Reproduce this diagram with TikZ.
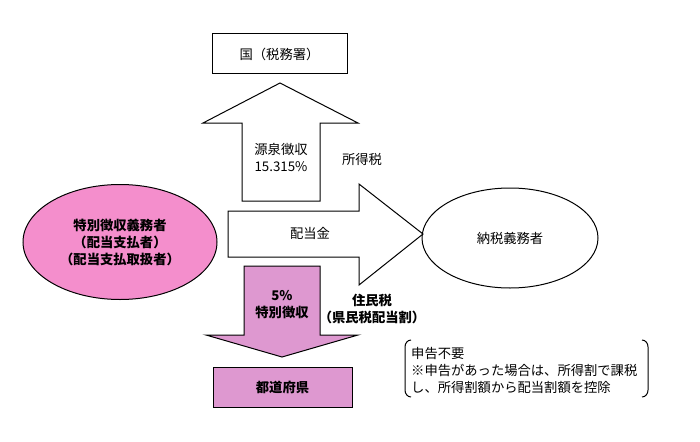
\documentclass[tikz,border=0pt]{standalone}
\usepackage{fontspec}
\setmainfont{Noto Sans CJK JP}
\usetikzlibrary{shapes.geometric}

\definecolor{ellpink}{RGB}{244,142,204}
\definecolor{arrpink}{RGB}{222,152,208}

\tikzset{
  lbl/.style={inner sep=0pt, align=center, font=\fontsize{13.3}{17}\selectfont},
  blbl/.style={lbl, font=\fontsize{13.3}{17}\selectfont\bfseries},
  outline/.style={draw=black, line width=1pt},
}

\begin{document}
\begin{tikzpicture}[x=1pt, y=-1pt]
  \useasboundingbox[fill=white] (0,0) rectangle (700,441);

  % Tax office box and withholding arrow
  \node[outline, minimum width=135, minimum height=40, lbl] (kuni) at (279.5,54) {国（税務署）};
  \draw[outline, fill=white] (242,201) -- (242,123) -- (203,123) -- (280,83)
    -- (358,123) -- (320,123) -- (320,201) -- cycle;
  \node[lbl] (gensen) at (281,157) {源泉徴収\\15.315\%};
  \node[lbl] (shotoku) at (362,159) {所得税};

  % Dividend payer
  \node[ellipse, outline, fill=ellpink, minimum width=194, minimum height=115, inner sep=0pt] (payer) at (120,242) {};
  \node[blbl] at (payer.center) {特別徴収義務者\\（配当支払者）\\（配当支払取扱者）};

  % Dividend arrow to taxpayer
  \draw[outline, fill=white] (228,211) -- (359,211) -- (359,184) -- (423,234)
    -- (359,285) -- (359,257) -- (228,257) -- cycle;
  \node[lbl] (haito) at (310,233) {配当金};
  \node[ellipse, draw=black, line width=1pt, minimum width=176, minimum height=100, lbl] (nozei) at (510,238) {納税義務者};

  % Special collection arrow
  \draw[outline, fill=arrpink] (244,266) -- (320,266) -- (320,335) -- (358,335)
    -- (282,357) -- (206,335) -- (244,335) -- cycle;
  \node[blbl] (tokubetsu) at (282,305) {5\%\\特別徴収};
  \node[blbl] (jumin) at (372,309) {住民税\\（県民税配当割）};
  \node[outline, fill=arrpink, minimum width=139, minimum height=40, blbl] (todofuken) at (282.5,387) {都道府県};

  % Note in brackets
  \draw[line width=1pt] (411,340) to[out=180, in=90] (405,347) -- (405,390) to[out=-90, in=180] (411,397);
  \draw[line width=1pt] (642,340) to[out=0, in=90] (648,347) -- (648,390) to[out=-90, in=0] (642,397);
  \node[lbl, align=left, anchor=west] (note) at (411,370.5) {申告不要\\※申告があった場合は、所得割で課税\\し、所得割額から配当割額を控除};
\end{tikzpicture}
\end{document}
